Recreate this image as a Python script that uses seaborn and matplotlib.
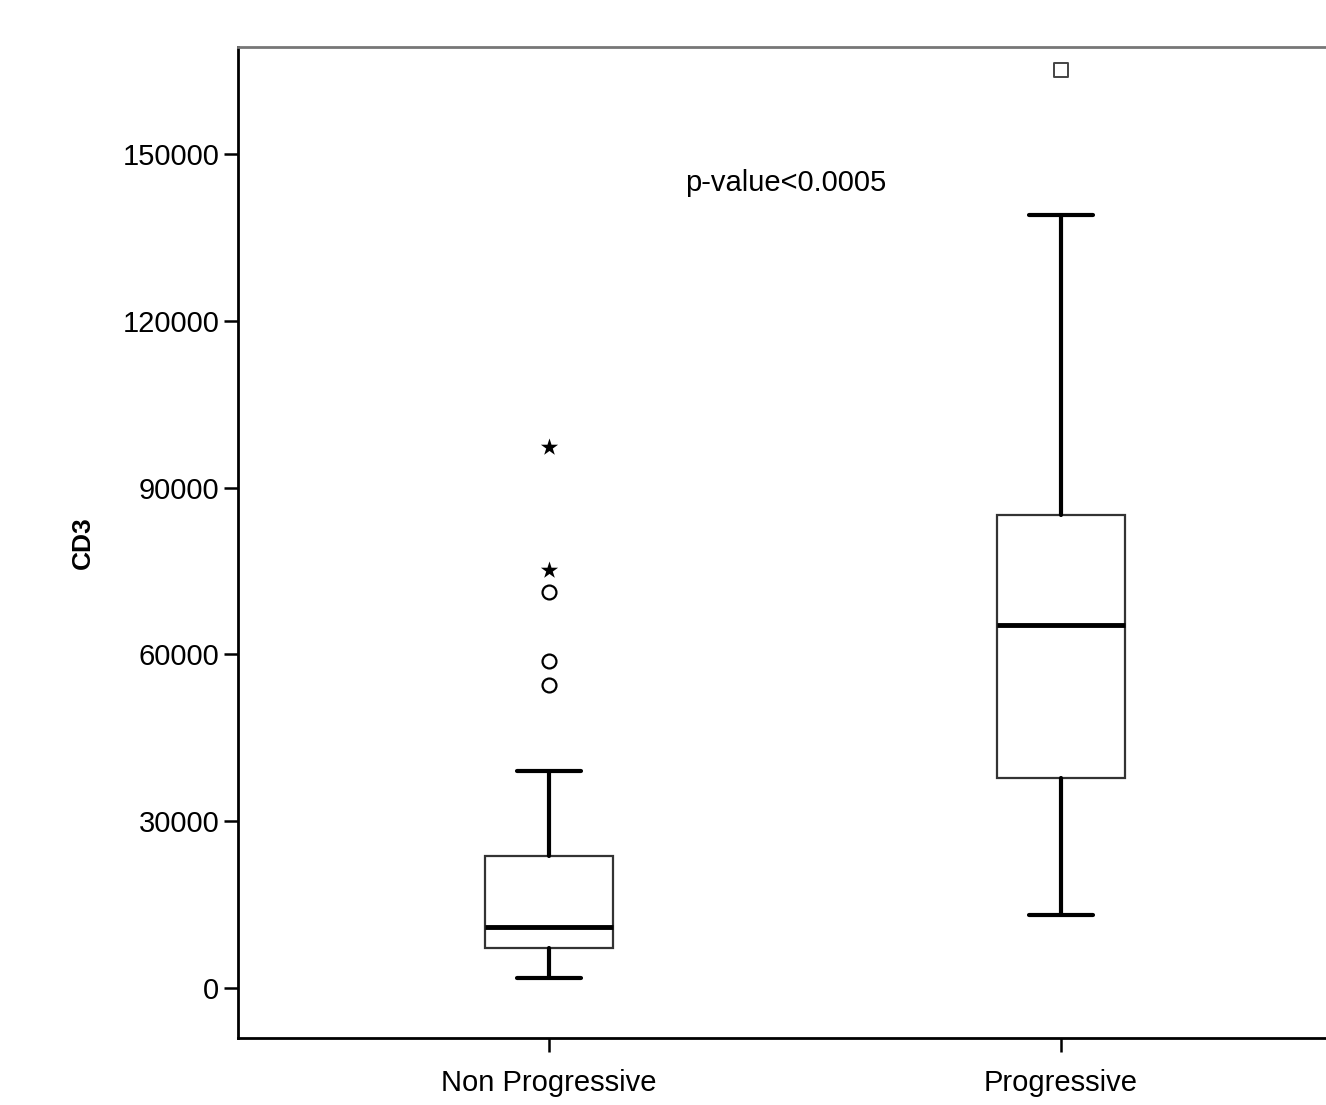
import numpy as np
import pandas as pd
import matplotlib
matplotlib.use("Agg")
import matplotlib.pyplot as plt
import seaborn as sns

# box statistics (SPSS style boxplot)
groups = ["Non Progressive", "Progressive"]
whisker_low = [1800, 13100]
q1 = [7200, 37800]
medians = [11000, 65300]
q3 = [23700, 85100]
whisker_high = [39000, 139000]

# outliers: circles (mild) and stars (extreme)
circle_group = ["Non Progressive", "Non Progressive", "Non Progressive"]
circle_vals = [54500, 58800, 71200]
small_group = ["Progressive"]
small_vals = [165000]
star_group = ["Non Progressive", "Non Progressive"]
star_vals = [75200, 97300]

yticks = [0, 30000, 60000, 90000, 120000, 150000]

sns.set_style("ticks")
plt.rcParams['font.family'] = ['Liberation Sans', 'DejaVu Sans']
plt.rcParams['text.color'] = 'black'
plt.rcParams['xtick.color'] = 'black'
plt.rcParams['ytick.color'] = 'black'
plt.rcParams['axes.labelcolor'] = 'black'

fig = plt.figure(figsize=(13.26, 11.05), dpi=100)
ax = fig.add_axes([0.1795, 0.0606, 0.855, 0.897])

circles = pd.DataFrame({"group": circle_group, "CD3": circle_vals})
small = pd.DataFrame({"group": small_group, "CD3": small_vals})
stars = pd.DataFrame({"group": star_group, "CD3": star_vals})

sns.stripplot(data=circles, x="group", y="CD3", order=groups, jitter=False,
              marker="o", size=10, color="white", edgecolor="black", linewidth=1.6,
              ax=ax, zorder=4)
sns.stripplot(data=small, x="group", y="CD3", order=groups, jitter=False,
              marker="s", size=9.5, color="white", edgecolor="#444444", linewidth=1.4,
              ax=ax, zorder=4)
sns.stripplot(data=stars, x="group", y="CD3", order=groups, jitter=False,
              marker="*", size=13, color="black", ax=ax, zorder=4)

stats = []
for i, g in enumerate(groups):
    stats.append(dict(label=g, whislo=whisker_low[i], q1=q1[i], med=medians[i],
                      q3=q3[i], whishi=whisker_high[i], fliers=[]))

ax.bxp(stats, positions=range(len(groups)), widths=0.25, capwidths=0.125,
       showfliers=False, patch_artist=True, manage_ticks=False,
       boxprops=dict(facecolor="white", edgecolor="#333333", linewidth=1.6),
       medianprops=dict(color="black", linewidth=3.5),
       whiskerprops=dict(color="black", linewidth=3),
       capprops=dict(color="black", linewidth=3))

ax.set_xlim(-0.607, 1.607)
ax.set_ylim(-8990, 169250)
ax.set_yticks(yticks)
ax.set_yticklabels([str(t) for t in yticks])
ax.set_xticks(range(len(groups)))
ax.set_xticklabels(groups)
ax.tick_params(axis="both", labelsize=21, length=10, width=1.8, direction="out", color="black")
ax.tick_params(axis="x", pad=12)
ax.set_xlabel("")
ax.set_ylabel("CD3", fontsize=19, fontweight="bold", labelpad=20)

for side in ["left", "bottom"]:
    ax.spines[side].set_color("black")
    ax.spines[side].set_linewidth(2)
ax.spines["top"].set_visible(True)
ax.spines["top"].set_color("#777777")
ax.spines["top"].set_linewidth(2)
ax.spines["right"].set_visible(False)

ax.text(0.266, 144800, "p-value<0.0005", fontsize=21, ha="left", va="center")

fig.savefig("out.png", dpi=100)
